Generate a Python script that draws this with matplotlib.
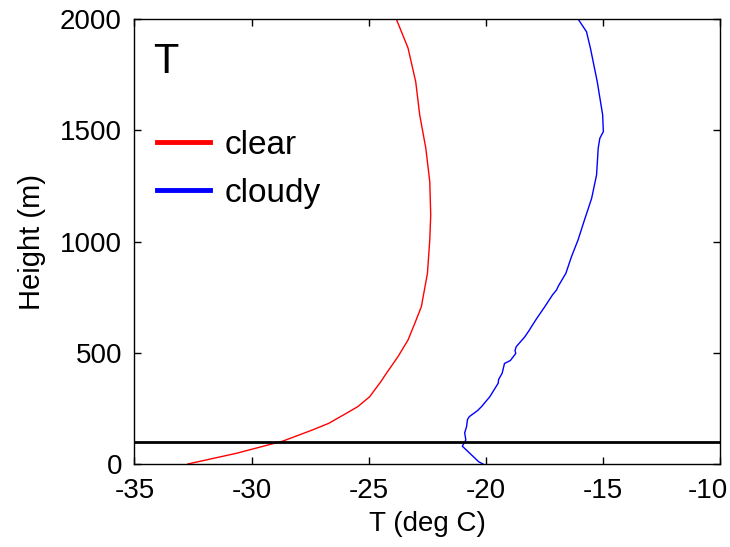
import matplotlib
matplotlib.use("Agg")
import matplotlib.pyplot as plt
from matplotlib.transforms import ScaledTranslation

# Clear-sky temperature profile
clear_h = [0, 48, 103, 153, 183, 228, 258, 302, 333, 370, 408, 482, 557, 632, 707, 857,
           1007, 1119, 1269, 1420, 1569, 1718, 1870, 2000]
clear_T = [-32.72, -30.65, -28.66, -27.4, -26.7, -25.95, -25.46, -24.96, -24.74, -24.48,
           -24.24, -23.75, -23.32, -23.03, -22.75, -22.49, -22.39, -22.35, -22.39, -22.56,
           -22.82, -22.99, -23.32, -23.82]

# Cloudy temperature profile
cloudy_h = [0, 10, 48, 80, 90, 108, 140, 168, 200, 213, 240, 258, 302, 363, 380, 408,
            452, 465, 497, 510, 527, 572, 600, 617, 650, 707, 760, 782, 800, 857, 932,
            1007, 1089, 1194, 1299, 1419, 1464, 1494, 1569, 1718, 1868, 1943, 2000]
cloudy_T = [-20.12, -20.3, -20.68, -21.0, -20.95, -20.85, -20.9, -20.82, -20.78, -20.7,
            -20.35, -20.18, -19.83, -19.47, -19.45, -19.3, -19.2, -18.95, -18.72, -18.75,
            -18.7, -18.33, -18.15, -18.05, -17.85, -17.48, -17.15, -16.98, -16.9, -16.58,
            -16.34, -16.06, -15.81, -15.48, -15.27, -15.2, -15.13, -14.98, -15.01, -15.24,
            -15.53, -15.70, -16.06]

boundary_h = 100
x_ticks = [-35, -30, -25, -20, -15, -10]
y_ticks = [0, 500, 1000, 1500, 2000]

plt.rcParams['font.family'] = ['Liberation Sans', 'DejaVu Sans']
plt.rcParams['axes.unicode_minus'] = False

fig = plt.figure(figsize=(7.3, 5.47), dpi=100)
ax = fig.add_axes([134.4 / 730, 83 / 547, 585.6 / 730, 445 / 547])

ax.plot(clear_T, clear_h, color='#ff0000', lw=1.0, label='clear')
ax.plot(cloudy_T, cloudy_h, color='#0000ff', lw=1.0, label='cloudy')
ax.axhline(boundary_h, color='black', lw=2.0)

ax.set_xlim(-35, -10)
ax.set_ylim(0, 2000)
ax.set_xticks(x_ticks)
ax.set_yticks(y_ticks)
ax.tick_params(direction='in', top=True, right=True, length=5, width=1,
               labelsize=20)
ax.tick_params(axis='x', pad=10)
ax.tick_params(axis='y', pad=9)
for s in ax.spines.values():
    s.set_linewidth(1.0)

# keep the last x tick label inside the figure edge
fig.canvas.draw()
last = ax.get_xticklabels()[-1]
last.set_transform(last.get_transform() + ScaledTranslation(-0.12, 0, fig.dpi_scale_trans))

ax.set_xlabel('T (deg C)', fontsize=20, labelpad=5)
ax.set_ylabel('Height (m)', fontsize=21, labelpad=10)

ax.text(0.054, 0.903, 'T', transform=ax.transAxes, fontsize=30,
        ha='center', va='center')

leg = ax.legend(loc='center left', bbox_to_anchor=(0.038, 0.662), frameon=False,
                fontsize=24, handlelength=1.6, handletextpad=0.45, labelspacing=0.5,
                borderpad=0, borderaxespad=0)
for line in leg.get_lines():
    line.set_linewidth(3.5)

fig.savefig('out.png', dpi=100)
